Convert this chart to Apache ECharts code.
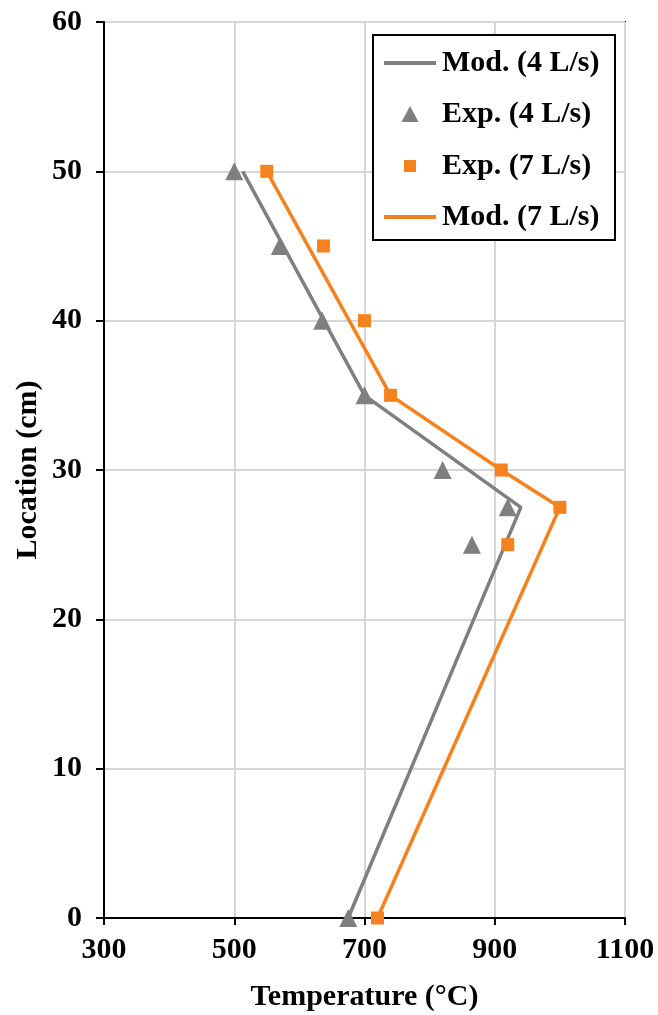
<!DOCTYPE html>
<html>
<head>
<meta charset="utf-8">
<script src="https://cdn.jsdelivr.net/npm/echarts@6/dist/echarts.min.js"></script>
<style>
  html, body { margin: 0; padding: 0; background: #fff; }
  #chart { width: 658px; height: 1015px; }
</style>
</head>
<body>
<div id="chart"></div>
<script>
// Temperature profiles along the reactor height (°C vs cm)
const seriesNames = ['Mod. (4 L/s)', 'Exp. (4 L/s)', 'Exp. (7 L/s)', 'Mod. (7 L/s)'];

// Model, 4 L/s: [temperature, location]
const mod4Temp = [513, 700, 940, 675];
const mod4Loc  = [50, 35, 27.5, 0];

// Experiment, 4 L/s
const exp4Temp = [500, 570, 635, 700, 820, 920, 865, 675];
const exp4Loc  = [50, 45, 40, 35, 30, 27.5, 25, 0];

// Experiment, 7 L/s
const exp7Temp = [550, 637, 700, 740, 910, 1000, 920, 720];
const exp7Loc  = [50, 45, 40, 35, 30, 27.5, 25, 0];

// Model, 7 L/s
const mod7Temp = [550, 740, 910, 1000, 720];
const mod7Loc  = [50, 35, 30, 27.5, 0];

const xTicks = [300, 500, 700, 900, 1100];
const yTicks = [0, 10, 20, 30, 40, 50, 60];

const pairs = (xs, ys) => xs.map((x, i) => [x, ys[i]]);

const GRAY = '#7f7f7f';
const ORANGE = '#f5821f';
const FONT = "'Liberation Serif', 'Times New Roman', serif";

const chart = echarts.init(document.getElementById('chart'), null, { renderer: 'canvas' });

// One legend block per entry so each icon keeps its own size;
// text padding lines every label up at the same left edge.
function legendFor(name, icon, centerY, w, h) {
  const iconLeft = 410 - w / 2;
  return {
    data: [{ name: name, icon: icon }],
    left: iconLeft, top: centerY - 15, orient: 'vertical', padding: 0,
    itemWidth: w, itemHeight: h, itemGap: 0, selectedMode: false,
    textStyle: {
      fontFamily: FONT, fontWeight: 'bold', fontSize: 30, color: '#000', lineHeight: 30,
      padding: [0, 0, 0, 437 - (iconLeft + w)]
    }
  };
}

chart.setOption({
  animation: false,
  backgroundColor: '#fff',
  grid: {
    left: 104, right: 33, top: 22, bottom: 97,
    outerBoundsMode: 'none',
    show: true, borderColor: '#000', borderWidth: 2, backgroundColor: 'transparent'
  },
  xAxis: {
    type: 'value', min: xTicks[0], max: xTicks[xTicks.length - 1], interval: 200,
    name: 'Temperature (°C)', nameLocation: 'middle', nameGap: 64, nameMoveOverlap: false,
    nameTextStyle: { fontFamily: FONT, fontWeight: 'bold', fontSize: 30, color: '#000' },
    axisLine: { show: true, onZero: false, lineStyle: { color: '#000', width: 2 } },
    axisTick: { show: true, inside: false, length: 7, lineStyle: { color: '#000', width: 2 } },
    axisLabel: {
      fontFamily: FONT, fontWeight: 'bold', fontSize: 30, color: '#000', margin: 17,
      formatter: v => String(v)
    },
    splitLine: { show: true, lineStyle: { color: '#d6d6d6', width: 2 } }
  },
  yAxis: {
    type: 'value', min: yTicks[0], max: yTicks[yTicks.length - 1], interval: 10,
    name: 'Location (cm)', nameLocation: 'middle', nameGap: 61, nameRotate: 90, nameMoveOverlap: false,
    nameTextStyle: { fontFamily: FONT, fontWeight: 'bold', fontSize: 30, color: '#000' },
    axisLine: { show: true, onZero: false, lineStyle: { color: '#000', width: 2 } },
    axisTick: { show: true, inside: false, length: 8, lineStyle: { color: '#000', width: 2 } },
    axisLabel: {
      fontFamily: FONT, fontWeight: 'bold', fontSize: 30, color: '#000', margin: 22,
      formatter: v => String(v)
    },
    splitLine: { show: true, lineStyle: { color: '#d6d6d6', width: 2 } }
  },
  legend: [
    legendFor(seriesNames[0], 'rect', 63, 52, 4),
    legendFor(seriesNames[1], 'triangle', 114, 17, 16),
    legendFor(seriesNames[2], 'rect', 166, 12, 12),
    legendFor(seriesNames[3], 'rect', 217, 52, 4)
  ],
  graphic: [{
    type: 'rect', z: 3,
    shape: { x: 373, y: 35, width: 242, height: 205 },
    style: { fill: '#fff', stroke: '#000', lineWidth: 2 }
  }],
  series: [
    {
      name: seriesNames[0], type: 'line', data: pairs(mod4Temp, mod4Loc),
      symbol: 'none', lineStyle: { color: GRAY, width: 3.5 }, itemStyle: { color: GRAY }, z: 2
    },
    {
      name: seriesNames[3], type: 'line', data: pairs(mod7Temp, mod7Loc),
      symbol: 'none', lineStyle: { color: ORANGE, width: 3.5 }, itemStyle: { color: ORANGE }, z: 2
    },
    {
      name: seriesNames[1], type: 'scatter', data: pairs(exp4Temp, exp4Loc),
      symbol: 'triangle', symbolSize: 18, itemStyle: { color: GRAY, opacity: 1 }, z: 2
    },
    {
      name: seriesNames[2], type: 'scatter', data: pairs(exp7Temp, exp7Loc),
      symbol: 'rect', symbolSize: 13, itemStyle: { color: ORANGE, opacity: 1 }, z: 2
    }
  ]
});
</script>
</body>
</html>
